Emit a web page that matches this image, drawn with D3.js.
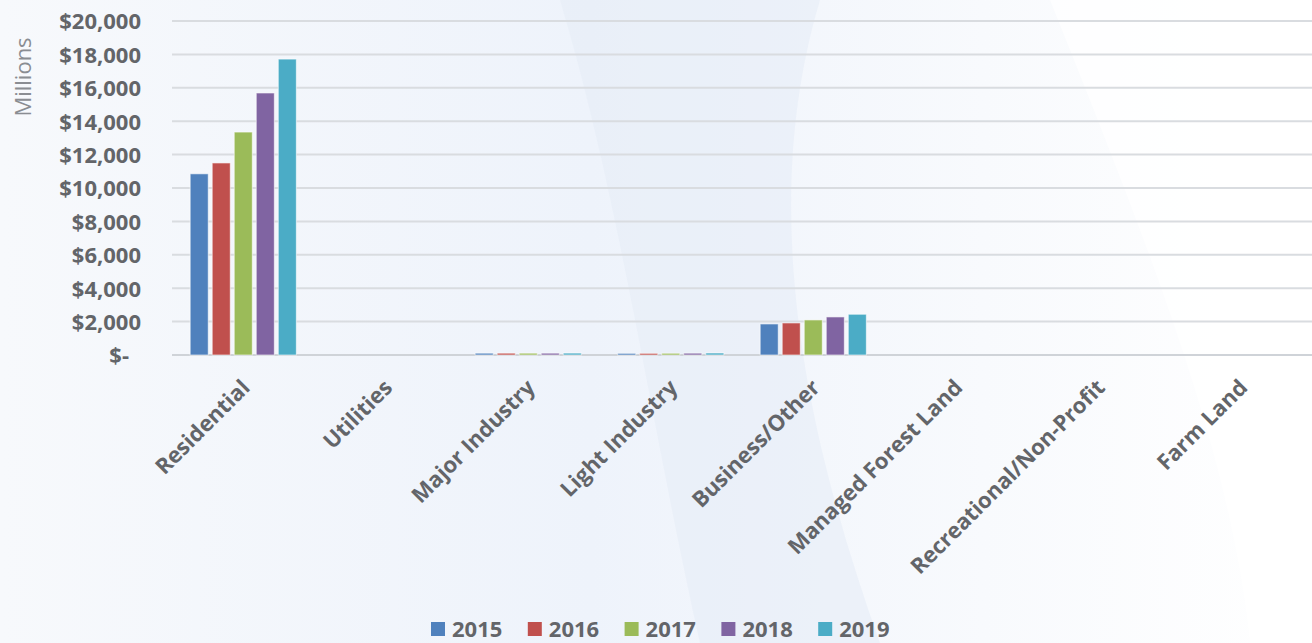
<!DOCTYPE html>
<html><head><meta charset="utf-8">
<script src="https://cdn.jsdelivr.net/npm/d3@7"></script>
<style>html,body{margin:0;padding:0;overflow:hidden;background:#fff}</style>
</head><body>
<svg id="chart" width="1312" height="643"></svg>
<script>
const categories = ["Residential","Utilities","Major Industry","Light Industry","Business/Other","Managed Forest Land","Recreational/Non-Profit","Farm Land"];
const years = ["2015","2016","2017","2018","2019"];
const colors = ["#4F81BD","#C0504D","#9BBB59","#8064A2","#4BACC6"];
const v2015 = [10850, 0, 110, 100, 1860, 0, 0, 0];
const v2016 = [11500, 0, 110, 100, 1920, 0, 0, 0];
const v2017 = [13350, 0, 110, 105, 2100, 0, 0, 0];
const v2018 = [15690, 0, 110, 110, 2280, 0, 0, 0];
const v2019 = [17720, 0, 115, 120, 2440, 0, 0, 0];
const series = [v2015, v2016, v2017, v2018, v2019];
const yTicks = [0,2000,4000,6000,8000,10000,12000,14000,16000,18000,20000];

const svg = d3.select("#chart");
const W = 1312, H = 643;
const font = "'Open Sans', Lato, sans-serif";
const txt = "#636569";

// background
const defs = svg.append("defs");
const g1 = defs.append("linearGradient").attr("id","bg").attr("x1","0").attr("y1","0").attr("x2","1").attr("y2","0");
g1.append("stop").attr("offset","0").attr("stop-color","#f7f9fc");
g1.append("stop").attr("offset","0.45").attr("stop-color","#eef3fb");
g1.append("stop").attr("offset","0.75").attr("stop-color","#f8fafd");
g1.append("stop").attr("offset","1").attr("stop-color","#ffffff");
svg.append("rect").attr("width",W).attr("height",H).attr("fill","url(#bg)");
svg.append("path").attr("d","M560,0 C620,200 650,420 700,643 L880,643 C800,420 760,200 820,0 Z").attr("fill","#e6ecf7").attr("opacity",0.6);
svg.append("path").attr("d","M1050,0 C1150,250 1230,450 1250,643 L1312,643 L1312,0 Z").attr("fill","#ffffff").attr("opacity",0.7);

const x0 = 172, x1 = 1312, y0 = 355, yTop = 21;
const y = d3.scaleLinear().domain([0,20000]).range([y0,yTop]);
const xb = d3.scaleBand().domain(categories).range([x0,x1]).paddingInner(0.255).paddingOuter(0.1275);
const xs = d3.scaleBand().domain(years).range([0,xb.bandwidth()]).paddingInner(0.18);

// grid
svg.append("g").selectAll("line").data(yTicks).join("line")
  .attr("x1",x0).attr("x2",x1).attr("y1",d=>y(d)).attr("y2",d=>y(d))
  .attr("stroke",d=>d===0?"#cfd3d8":"#d9dce0").attr("stroke-width",2);

// y axis labels
const fmt = d => d===0 ? "$-" : "$" + d3.format(",")(d);
const yAxis = d3.axisLeft(y).tickValues(yTicks).tickFormat(fmt).tickSize(0).tickPadding(0);
const ya = svg.append("g").attr("transform",`translate(141,0)`).call(yAxis);
ya.select(".domain").remove();
ya.selectAll("text").attr("font-family",font).attr("font-weight","bold").attr("font-size",22).attr("fill",txt).attr("dy","0.36em");
ya.selectAll(".tick").filter(d=>d===0).select("text").attr("x",-12);

svg.append("text").attr("transform","translate(31,77) rotate(-90)").attr("text-anchor","middle")
  .attr("font-family",font).attr("font-size",22).attr("fill","#8a8d92").text("Millions");

// bars
const grp = svg.append("g").selectAll("g").data(series).join("g").attr("fill",(d,i)=>colors[i]);
grp.selectAll("rect").data((d,i)=>d.map((v,j)=>({v, c:categories[j], yr:years[i]}))).join("rect")
  .attr("x",d=>xb(d.c)+xs(d.yr)).attr("width",xs.bandwidth())
  .attr("y",d=>y(d.v)).attr("height",d=>y0-y(d.v))
  .attr("stroke","#ffffff").attr("stroke-opacity",0.6).attr("stroke-width",1);

// x labels
const xAxis = d3.axisBottom(xb).tickSize(0).tickPadding(0);
const xa = svg.append("g").attr("transform",`translate(0,${y0})`).call(xAxis);
xa.select(".domain").remove();
xa.selectAll("text").attr("font-family",font).attr("font-weight","bold").attr("font-size",22).attr("fill",txt)
  .attr("text-anchor","end").attr("dy",0).attr("y",0)
  .attr("transform","translate(8,34) rotate(-45)");

// legend
const lg = svg.append("g").selectAll("g").data(years).join("g")
  .attr("transform",(d,i)=>`translate(${431 + i*96.8},622)`);
lg.append("rect").attr("width",14).attr("height",14).attr("fill",(d,i)=>colors[i]);
lg.append("text").attr("x",21).attr("y",7).attr("dy","0.36em").attr("font-family",font).attr("font-weight","bold")
  .attr("font-size",22).attr("fill",txt).text(d=>d);
</script>
</body></html>
